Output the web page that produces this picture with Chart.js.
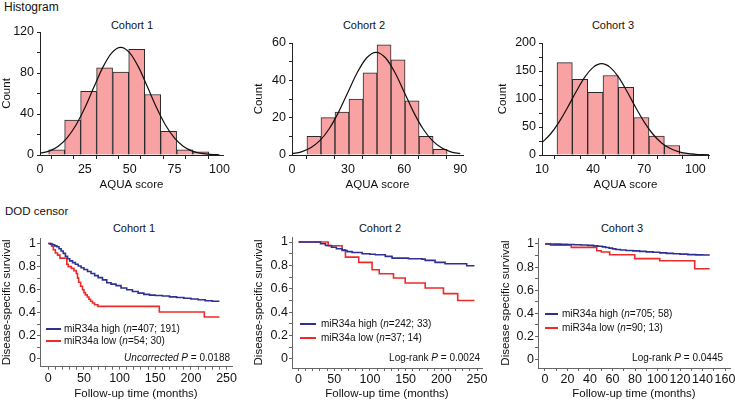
<!DOCTYPE html>
<html>
<head>
<meta charset="utf-8">
<script src="https://cdn.jsdelivr.net/npm/chart.js@4.4.1/dist/chart.umd.min.js"></script>
<style>
  body { margin: 0; width: 735px; height: 401px; background: #fff; position: relative; overflow: hidden;
         font-family: "Liberation Sans", Arial, Helvetica, sans-serif; color: #111; }
  canvas { position: absolute; }
  .t { position: absolute; white-space: nowrap; line-height: 1; }
  .c { transform: translate(-50%, -50%); }
  .l { transform: translateY(-50%); }
  .r { transform: translate(-100%, -50%); }
  .leg { position: absolute; display: flex; align-items: center; white-space: nowrap; font-size: 10px;
         line-height: 12px; height: 12px; }
  .leg span.sw { display: inline-block; height: 2px; }
</style>
</head>
<body>
<div class="t l" style="left:4px; top:6.5px; font-size:12px;">Histogram</div>
<div class="t l" style="left:5px; top:212px; font-size:11.5px;">DOD censor</div>

<div class="t c" style="left:132px; top:25px; font-size:11px;">Cohort 1</div>
<div class="t c" style="left:364px; top:25px; font-size:11px;">Cohort 2</div>
<div class="t c" style="left:613px; top:25px; font-size:11px;">Cohort 3</div>
<div class="t c" style="left:134px; top:228px; font-size:11px;">Cohort 1</div>
<div class="t c" style="left:380px; top:228px; font-size:11px;">Cohort 2</div>
<div class="t c" style="left:622px; top:228px; font-size:11px;">Cohort 3</div>

<canvas id="h1" width="235" height="182" style="left:0px; top:14px;"></canvas>
<canvas id="h2" width="228" height="182" style="left:252px; top:14px;"></canvas>
<canvas id="h3" width="239" height="182" style="left:496px; top:14px;"></canvas>
<canvas id="k1" width="240" height="181" style="left:0px; top:220px;"></canvas>
<canvas id="k2" width="240" height="181" style="left:252px; top:220px;"></canvas>
<canvas id="k3" width="236" height="181" style="left:499px; top:220px;"></canvas>

<div class="leg" style="left:46px; top:323px;"><span class="sw" style="width:15px; background:#2e3192; margin-right:3px;"></span>miR34a high (<i>n</i>=407; 191)</div>
<div class="leg" style="left:46px; top:335px;"><span class="sw" style="width:15px; background:#ee2b2b; margin-right:3px;"></span>miR34a low (<i>n</i>=54; 30)</div>
<div class="t r" style="left:230px; top:358px; font-size:10px;"><i>Uncorrected P</i> = 0.0188</div>

<div class="leg" style="left:300px; top:318px;"><span class="sw" style="width:16px; background:#2e3192; margin-right:5px;"></span>miR34a high (<i>n</i>=242; 33)</div>
<div class="leg" style="left:300px; top:332px;"><span class="sw" style="width:16px; background:#ee2b2b; margin-right:5px;"></span>miR34a low (<i>n</i>=37; 14)</div>
<div class="t r" style="left:480px; top:358px; font-size:10px;">Log-rank <i>P</i> = 0.0024</div>

<div class="leg" style="left:545px; top:308px;"><span class="sw" style="width:13px; background:#2e3192; margin-right:4px;"></span>miR34a high (<i>n</i>=705; 58)</div>
<div class="leg" style="left:545px; top:322px;"><span class="sw" style="width:13px; background:#ee2b2b; margin-right:4px;"></span>miR34a low (<i>n</i>=90; 13)</div>
<div class="t r" style="left:723px; top:358px; font-size:10px;">Log-rank <i>P</i> = 0.0445</div>

<script>
// --- Histogram data (bin centres + counts) ---
const h1Centers = [9.3, 18.2, 27.1, 36.0, 45.0, 53.9, 62.8, 71.7, 80.7, 89.6];
const h1Counts = [5, 34, 62, 85, 81, 103, 59, 23, 5, 3];
const h1CurveX = [0, 5, 10, 15, 20, 25, 30, 35, 40, 45, 50, 55, 60, 65, 70, 75, 80, 85, 90, 95, 100];
const h1CurveY = [1.6, 3.8, 8.4, 16.5, 29, 46, 66, 85.5, 99.7, 105, 99.7, 85.5, 66, 46, 29, 16.5, 8.4, 3.8, 1.6, 0.6, 0.2];

const h2Centers = [11.75, 19.25, 26.75, 34.25, 41.75, 49.25, 56.75, 64.25, 71.75, 79.25];
const h2Counts = [10, 20, 23, 30, 44, 59, 51, 29, 10, 3];
const h2CurveX = [0, 5, 10, 15, 20, 25, 30, 35, 40, 45, 50, 55, 60, 65, 70, 75, 80, 85, 90];
const h2CurveY = [0.7, 1.7, 3.9, 7.8, 14.2, 23.1, 33.8, 44.3, 52.1, 55, 52.1, 44.3, 33.8, 23.1, 14.2, 7.8, 3.9, 1.7, 0.7];

const h3Centers = [23.3, 32.3, 41.3, 50.3, 59.3, 68.3, 77.3, 86.3, 95.3, 104.3];
const h3Counts = [165, 135, 112, 142, 121, 67, 34, 17, 2, 1];
const h3CurveX = [10, 15, 20, 25, 30, 35, 40, 45, 50, 55, 60, 65, 70, 75, 80, 85, 90, 95, 100, 105, 108];
const h3CurveY = [22, 37.5, 58.8, 84.8, 112.9, 138.5, 156.5, 163, 156.5, 138.5, 112.9, 84.8, 58.8, 37.5, 22, 12, 6, 2.8, 1.2, 0.5, 0.3];

// --- Survival data (months, survival fraction) ---
const k1HighT = [0, 3, 6, 9, 12, 15, 18, 21, 24, 27, 30, 34, 38, 42, 46, 50, 55, 60, 65, 70, 76, 82, 88, 95, 102, 110, 118, 126, 134, 142, 150, 160, 170, 180, 190, 200, 210, 220, 230, 240];
const k1HighS = [1, 0.995, 0.99, 0.98, 0.972, 0.955, 0.935, 0.915, 0.89, 0.868, 0.85, 0.835, 0.82, 0.805, 0.79, 0.775, 0.758, 0.74, 0.722, 0.705, 0.685, 0.66, 0.648, 0.635, 0.615, 0.6, 0.585, 0.57, 0.56, 0.553, 0.55, 0.545, 0.538, 0.532, 0.526, 0.52, 0.513, 0.505, 0.5, 0.5];
const k1LowT = [0, 4.7, 7.1, 9.9, 13, 16.4, 26, 28, 32.3, 36, 39.3, 41, 42.6, 45.4, 48, 50, 52, 54.7, 57, 59.3, 62, 64.9, 69.6, 155.7, 218.8, 240];
const k1LowS = [1, 0.976, 0.946, 0.918, 0.9, 0.874, 0.82, 0.8, 0.785, 0.765, 0.74, 0.7, 0.665, 0.63, 0.6, 0.575, 0.555, 0.537, 0.518, 0.5, 0.485, 0.47, 0.456, 0.407, 0.364, 0.364];

const k2HighT = [0, 28.5, 30.8, 37.7, 46, 53, 61, 68, 75, 89, 100, 107.5, 121.5, 131, 154, 172.8, 177.4, 191.3, 205.3, 235.6, 246.4];
const k2HighS = [1, 1, 0.985, 0.97, 0.956, 0.942, 0.928, 0.918, 0.911, 0.9, 0.895, 0.891, 0.877, 0.862, 0.857, 0.854, 0.843, 0.826, 0.814, 0.797, 0.797];
const k2LowT = [0, 41.5, 61, 65.7, 84.3, 103, 113, 133, 149.4, 177.4, 203, 223, 246.4];
const k2LowS = [1, 0.968, 0.934, 0.871, 0.826, 0.763, 0.729, 0.692, 0.65, 0.607, 0.559, 0.5, 0.5];

const k3HighT = [0, 8, 14, 20, 26, 32, 38, 43, 47, 51, 54, 57, 60, 63, 67, 72, 78, 84, 90, 96, 102, 108, 114, 120, 127, 134, 140, 146.4];
const k3HighS = [1, 0.999, 0.997, 0.996, 0.994, 0.991, 0.988, 0.984, 0.98, 0.975, 0.97, 0.964, 0.958, 0.952, 0.948, 0.944, 0.94, 0.936, 0.932, 0.928, 0.923, 0.919, 0.915, 0.912, 0.908, 0.906, 0.905, 0.905];
const k3LowT = [0, 5, 23.4, 46, 50, 57.5, 79.7, 102, 133, 146.4];
const k3LowS = [1, 0.989, 0.971, 0.942, 0.93, 0.907, 0.873, 0.855, 0.786, 0.786];

// --- Tick values (labelled + minor) ---
const h1XTicks = [0, 12.5, 25, 37.5, 50, 62.5, 75, 87.5, 100];
const h1XLabels = [0, 25, 50, 75, 100];
const h1YTicks = [0, 20, 40, 60, 80, 100, 120];
const h1YLabels = [0, 40, 80, 120];
const h2XTicks = [0, 15, 30, 45, 60, 75, 90];
const h2XLabels = [0, 30, 60, 90];
const h2YTicks = [0, 10, 20, 30, 40, 50, 60];
const h2YLabels = [0, 20, 40, 60];
const h3XTicks = [10, 25, 40, 55, 70, 85, 100];
const h3XLabels = [10, 40, 70, 100];
const h3YTicks = [0, 25, 50, 75, 100, 125, 150, 175, 200];
const h3YLabels = [0, 50, 100, 150, 200];
const kXTicks = [0, 10, 20, 30, 40, 50, 60, 70, 80, 90, 100, 110, 120, 130, 140, 150, 160, 170, 180, 190, 200, 210, 220, 230, 240, 250];
const kXLabels = [0, 50, 100, 150, 200, 250];
const k3XTicks = [0, 10, 20, 30, 40, 50, 60, 70, 80, 90, 100, 110, 120, 130, 140, 150, 160];
const k3XLabels = [0, 20, 40, 60, 80, 100, 120, 140, 160];
const kYTicks = [0, 0.1, 0.2, 0.3, 0.4, 0.5, 0.6, 0.7, 0.8, 0.9, 1];
const kYLabels = [0, 0.2, 0.4, 0.6, 0.8, 1];

const FONT = '"Liberation Sans", Arial, Helvetica, sans-serif';
const PINK = '#f8a2a3';
const BLUE = '#2e3192';
const RED = '#ee2b2b';

Chart.defaults.font.family = FONT;
Chart.defaults.color = '#111';

const pts = (xs, ys) => xs.map((x, i) => ({ x: x, y: ys[i] }));

function labelFor(v, labels, fmt) {
    const hit = labels.find(l => Math.abs(l - v) < 1e-6);
    if (hit === undefined) return '';
    return fmt ? fmt(hit) : String(hit);
}

function buildScale(o) {
    return {
        type: 'linear',
        min: o.min,
        max: o.max,
        offset: false,
        grid: { display: true, drawOnChartArea: false, drawTicks: true, tickLength: o.tickLen, tickColor: o.color, tickWidth: 1 },
        border: { display: true, color: o.color, width: 1 },
        ticks: {
            autoSkip: false, maxRotation: 0, minRotation: 0,
            padding: o.pad, color: '#111', font: { size: o.fontSize },
            callback: v => labelFor(v, o.labels, o.fmt)
        },
        title: { display: true, text: o.title, color: '#111', font: { size: 11.5 }, padding: o.titlePad },
        afterBuildTicks: s => { s.ticks = o.ticks.map(v => ({ value: v })); },
        afterFit: s => {
            if (s.isHorizontal()) s.height = o.size; else s.width = o.size;
            s.paddingLeft = 0; s.paddingRight = 0; s.paddingTop = 0; s.paddingBottom = 0;
        }
    };
}

const baseOpts = (padding, x, y) => ({
    responsive: false,
    animation: false,
    devicePixelRatio: 1,
    layout: { padding: padding },
    plugins: { legend: { display: false }, tooltip: { enabled: false }, title: { display: false } },
    scales: { x: x, y: y }
});

function makeHist(id, c) {
    new Chart(document.getElementById(id), {
        type: 'bar',
        data: {
            datasets: [
                { type: 'line', data: pts(c.curveX, c.curveY), borderColor: '#111', borderWidth: 1.2,
                  pointRadius: 0, cubicInterpolationMode: 'monotone', order: 0 },
                { type: 'bar', data: pts(c.centers, c.counts), backgroundColor: PINK, borderColor: '#2a2a2a',
                  borderWidth: 1, barPercentage: 1, categoryPercentage: 1, order: 1 }
            ]
        },
        options: baseOpts(c.padding,
            buildScale({ min: c.xMin, max: c.xMax, ticks: c.xTicks, labels: c.xLabels, title: 'AQUA score',
                         size: 41, tickLen: 4, pad: 3, fontSize: 12.5, color: '#222', titlePad: { top: 0, bottom: 4 } }),
            buildScale({ min: c.yMin, max: c.yMax, ticks: c.yTicks, labels: c.yLabels, title: 'Count',
                         size: c.yWidth, tickLen: 3, pad: 3, fontSize: 12.5, color: '#222', titlePad: { top: 0, bottom: 0 } }))
    });
}

const survFmt = v => (v === 0 || v === 1) ? String(v) : v.toFixed(1);

function makeKM(id, c) {
    new Chart(document.getElementById(id), {
        type: 'line',
        data: {
            datasets: [
                { data: pts(c.highT, c.highS), borderColor: BLUE, borderWidth: 1.6, pointRadius: 0, stepped: true },
                { data: pts(c.lowT, c.lowS), borderColor: RED, borderWidth: 1.6, pointRadius: 0, stepped: true }
            ]
        },
        options: baseOpts(c.padding,
            buildScale({ min: c.xMin, max: c.xMax, ticks: c.xTicks, labels: c.xLabels, title: 'Follow-up time (months)',
                         size: c.xHeight, tickLen: 3, pad: 1, fontSize: 12.5, color: '#666', titlePad: { top: 0, bottom: 0 } }),
            buildScale({ min: c.yMin, max: c.yMax, ticks: kYTicks, labels: kYLabels, fmt: survFmt, title: c.yTitle,
                         size: c.yWidth, tickLen: 3, pad: 1, fontSize: 12.5, color: '#666', titlePad: { top: 0, bottom: 0 } }))
    });
}

makeHist('h1', { centers: h1Centers, counts: h1Counts, curveX: h1CurveX, curveY: h1CurveY,
    xMin: 0, xMax: 102, yMin: 0, yMax: 120, xTicks: h1XTicks, xLabels: h1XLabels, yTicks: h1YTicks, yLabels: h1YLabels,
    yWidth: 40, padding: { top: 18, right: 12, left: 0, bottom: 0 } });
makeHist('h2', { centers: h2Centers, counts: h2Counts, curveX: h2CurveX, curveY: h2CurveY,
    xMin: 0, xMax: 91.5, yMin: 0, yMax: 60, xTicks: h2XTicks, xLabels: h2XLabels, yTicks: h2YTicks, yLabels: h2YLabels,
    yWidth: 40, padding: { top: 29, right: 17, left: 0, bottom: 0 } });
makeHist('h3', { centers: h3Centers, counts: h3Counts, curveX: h3CurveX, curveY: h3CurveY,
    xMin: 10, xMax: 108, yMin: 0, yMax: 200, xTicks: h3XTicks, xLabels: h3XLabels, yTicks: h3YTicks, yLabels: h3YLabels,
    yWidth: 46, padding: { top: 29, right: 26, left: 0, bottom: 0 } });

makeKM('k1', { highT: k1HighT, highS: k1HighS, lowT: k1LowT, lowS: k1LowS,
    xMin: -11.6, xMax: 257.6, yMin: -0.067, yMax: 1.048, xTicks: kXTicks, xLabels: kXLabels,
    yTitle: 'Disease-specific survival', yWidth: 40, xHeight: 34.3, padding: { top: 18, right: 8, left: 0, bottom: 0 } });
makeKM('k2', { highT: k2HighT, highS: k2HighS, lowT: k2LowT, lowS: k2LowS,
    xMin: -9.2, xMax: 257, yMin: -0.077, yMax: 1.043, xTicks: kXTicks, xLabels: kXLabels,
    yTitle: 'Disease-specific survival', yWidth: 40, xHeight: 33, padding: { top: 17, right: 10, left: 0, bottom: 0 } });
makeKM('k3', { highT: k3HighT, highS: k3HighS, lowT: k3LowT, lowS: k3LowS,
    xMin: -6.2, xMax: 164.4, yMin: -0.075, yMax: 1.052, xTicks: k3XTicks, xLabels: k3XLabels,
    yTitle: 'Disease specific survival', yWidth: 39, xHeight: 33, padding: { top: 18, right: 5, left: 0, bottom: 0 } });
</script>
</body>
</html>
